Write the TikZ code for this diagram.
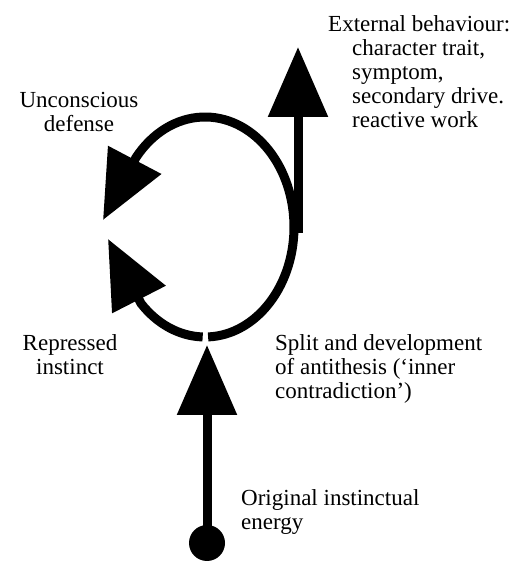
\documentclass[tikz,border=0pt]{standalone}
\usepackage{fontspec}
\setmainfont{Liberation Serif}
\usetikzlibrary{arrows.meta}

\tikzset{
  drive/.style={line width=9pt, line join=round, -{Triangle[length=70pt, width=58pt]}},
  bent/.style={line width=9pt, line join=round, -{Triangle[length=68pt, width=58pt]}},
  label/.style={inner sep=0pt, font=\fontsize{23}{24.2}\selectfont}
}

\begin{document}
\begin{tikzpicture}[x=1pt, y=1pt]
  \useasboundingbox (0,0) rectangle (520,562);

  % --- source and the rising drive ---
  \node[circle, fill, inner sep=0pt, minimum size=36pt] (energy) at (207,19) {};
  \coordinate (split) at (207,217);
  \draw[drive] (energy.center) -- (split);

  % --- the loop (ellipse round this centre) ---
  \coordinate (loop) at (205,335);
  \coordinate (repressed) at (108,323);
  \coordinate (defense) at (103,342);
  \draw[bent] ([shift={(-91.5:89 and 110)}]loop)
    arc[start angle=-91.5, end angle=-136, x radius=89, y radius=110] -- (repressed);
  \draw[bent] ([shift={(-88:89 and 110)}]loop)
    arc[start angle=-88, end angle=141, x radius=89, y radius=110] -- (defense);

  % --- outward branch ---
  \coordinate (outlet) at (298,329);
  \coordinate (behaviour) at (298,515);
  \draw[drive] (outlet) -- (behaviour);

  % labels
  \node[label, anchor=north west, align=left] (external) at (328,547)
    {External behaviour:\\\hspace*{24pt}character trait,\\\hspace*{24pt}symptom,\\\hspace*{24pt}secondary drive.\\\hspace*{24pt}reactive work};
  \node[label, anchor=north, align=center] (unconscious) at (79,470) {Unconscious\\defense};
  \node[label, anchor=north, align=center] (instinct) at (70,228) {Repressed\\instinct};
  \node[label, anchor=north west, align=left] (antithesis) at (275,228)
    {Split and development\\of antithesis (‘inner\\contradiction’)};
  \node[label, anchor=north west, align=left] (original) at (241,73) {Original instinctual\\energy};
\end{tikzpicture}
\end{document}
